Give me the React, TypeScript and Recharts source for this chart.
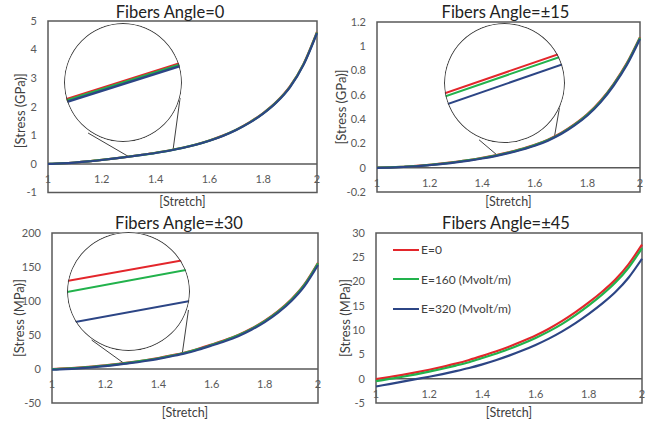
import React from "react";
import {
  LineChart,
  Line,
  XAxis,
  YAxis,
  ReferenceLine,
  ReferenceArea,
  ReferenceDot,
  Legend,
} from "recharts";

const stretch = [1, 1.05, 1.1, 1.15, 1.2, 1.25, 1.3, 1.35, 1.4, 1.45, 1.5, 1.55, 1.6, 1.65, 1.7, 1.75, 1.8, 1.85, 1.9, 1.95, 2];
const xTicks = [1, 1.2, 1.4, 1.6, 1.8, 2];
const seriesNames = ["E=0", "E=160 (Mvolt/m)", "E=320 (Mvolt/m)"];

// Fibers angle 0 (GPa)
const a0E0 = [0, 0.02, 0.05, 0.09, 0.14, 0.195, 0.255, 0.32, 0.39, 0.47, 0.565, 0.68, 0.82, 0.99, 1.2, 1.46, 1.78, 2.18, 2.72, 3.5, 4.62];
const a0E160 = [0, 0.02, 0.049, 0.089, 0.139, 0.194, 0.253, 0.318, 0.388, 0.467, 0.562, 0.676, 0.816, 0.985, 1.194, 1.453, 1.77, 2.17, 2.707, 3.485, 4.6];
const a0E320 = [0, 0.019, 0.048, 0.087, 0.137, 0.191, 0.25, 0.314, 0.383, 0.462, 0.556, 0.67, 0.809, 0.977, 1.185, 1.443, 1.758, 2.156, 2.69, 3.465, 4.575];

// Fibers angle ±15 (GPa)
const a15E0 = [0, 0.003, 0.008, 0.015, 0.024, 0.035, 0.048, 0.063, 0.081, 0.102, 0.126, 0.155, 0.188, 0.231, 0.286, 0.356, 0.441, 0.551, 0.691, 0.861, 1.075];
const a15E160 = [0, 0.003, 0.008, 0.014, 0.023, 0.034, 0.047, 0.062, 0.08, 0.1, 0.124, 0.153, 0.186, 0.228, 0.283, 0.352, 0.437, 0.546, 0.686, 0.856, 1.07];
const a15E320 = [-0.002, 0.001, 0.006, 0.012, 0.021, 0.031, 0.044, 0.059, 0.076, 0.096, 0.12, 0.148, 0.181, 0.223, 0.277, 0.346, 0.43, 0.538, 0.677, 0.846, 1.06];

// Fibers angle ±30 (MPa)
const a30E0 = [0, 0.8, 2, 3.5, 5.3, 7.5, 10, 12.9, 16.2, 20, 24.3, 29.8, 36, 42.5, 50, 59.5, 71, 85, 102.5, 125, 156];
const a30E160 = [-0.3, 0.5, 1.7, 3.2, 5, 7.2, 9.7, 12.6, 15.8, 19.6, 23.9, 29.3, 35.5, 42, 49.5, 59, 70.4, 84.4, 101.8, 124.3, 155.5];
const a30E320 = [-1, -0.2, 1, 2.5, 4.3, 6.5, 8.9, 11.8, 15, 18.8, 23, 28.4, 34.5, 40.9, 48.3, 57.7, 69, 82.8, 100, 122.3, 153];

// Fibers angle ±45 (MPa)
const a45E0 = [-0.1, 0.35, 0.8, 1.3, 1.85, 2.45, 3.1, 3.85, 4.7, 5.6, 6.6, 7.7, 8.9, 10.3, 11.9, 13.7, 15.7, 17.9, 20.4, 23.6, 27.6];
const a45E160 = [-0.5, -0.05, 0.4, 0.9, 1.45, 2.05, 2.7, 3.4, 4.25, 5.15, 6.1, 7.2, 8.4, 9.75, 11.3, 13.1, 15.1, 17.3, 19.8, 22.9, 26.9];
const a45E320 = [-1.6, -1.1, -0.6, -0.1, 0.4, 0.95, 1.55, 2.2, 2.95, 3.8, 4.75, 5.8, 6.95, 8.25, 9.75, 11.45, 13.35, 15.45, 17.85, 20.85, 24.7];

// zoomed views (magnified windows)
const zoom0Stretch = [1.37, 1.39];
const zoom0E0 = [0.364, 0.396];
const zoom0E160 = [0.3629, 0.3949];
const zoom0E320 = [0.3616, 0.3936];

const zoom15Stretch = [1.56, 1.58];
const zoom15E0 = [0.18, 0.194];
const zoom15E160 = [0.1789, 0.1929];
const zoom15E320 = [0.1761, 0.1901];

const zoom30Stretch = [1.37, 1.39];
const zoom30E0 = [14.9, 16.3];
const zoom30E160 = [14.21, 15.65];
const zoom30E320 = [12.21, 13.64];

const RED = "#e3262b";
const GREEN = "#22b24c";
const BLUE = "#2c4585";
const GRAY = "#595959";

const toRows = (xs: number[], a: number[], b: number[], c: number[]) =>
  xs.map((s, i) => ({ stretch: s, e0: a[i], e160: b[i], e320: c[i] }));

function XTitle({ viewBox }: any) {
  const vb = viewBox || { x: 0, y: 0, width: 0, height: 0 };
  return (
    <text x={vb.x + vb.width / 2} y={vb.y + 9} textAnchor="middle" dominantBaseline="central" fill="#404040" fontSize={12.5}>
      [Stretch]
    </text>
  );
}

function YTitle({ viewBox, titleText, titleX, shift }: any) {
  const vb = viewBox || { x: 0, y: 0, width: 0, height: 0 };
  const cy = vb.y + vb.height / 2 + shift;
  return (
    <text x={titleX} y={cy} transform={`rotate(-90 ${titleX} ${cy})`} textAnchor="middle" dominantBaseline="central" fill="#404040" fontSize={13}>
      {titleText}
    </text>
  );
}

function renderLegend({ payload }: any) {
  return (
    <div>
      {(payload || []).map((p: any) => (
        <div key={p.value} style={{ display: "flex", alignItems: "center", height: 29.5 }}>
          <span style={{ display: "inline-block", width: 26, height: 2, background: p.color }} />
          <span style={{ marginLeft: 2, fontSize: 12, color: "#404040" }}>{p.value}</span>
        </div>
      ))}
    </div>
  );
}

function Inset({ z }: any) {
  const data = toRows(z.x, z.e0, z.e160, z.e320);
  return (
    <div style={{ position: "absolute", left: z.left, top: z.top, width: z.w, height: z.h, borderRadius: "50%", overflow: "hidden", background: "#fff" }}>
      <LineChart width={z.w} height={z.h} data={data} margin={{ top: 0, right: 0, bottom: 0, left: 0 }}>
        <XAxis type="number" dataKey="stretch" domain={[z.x[0], z.x[1]]} hide />
        <YAxis type="number" domain={z.yDomain} hide />
        <Line dataKey="e0" stroke={RED} strokeWidth={z.sw} dot={false} isAnimationActive={false} />
        <Line dataKey="e160" stroke={GREEN} strokeWidth={z.sw} dot={false} isAnimationActive={false} />
        <Line dataKey="e320" stroke={BLUE} strokeWidth={z.sw} dot={false} isAnimationActive={false} />
      </LineChart>
      <div style={{ position: "absolute", inset: 0, borderRadius: "50%", border: "1.3px solid #404040" }} />
    </div>
  );
}

function Panel({ p }: any) {
  const data = toRows(stretch, p.e0, p.e160, p.e320);
  return (
    <div style={{ position: "absolute", left: p.left, top: p.top, width: p.width, height: p.height }}>
      <LineChart width={p.width} height={p.height} data={data} margin={{ top: p.mTop, right: p.mRight, bottom: 0, left: 0 }}>
        <XAxis type="number" dataKey="stretch" domain={[1, 2]} ticks={xTicks} tick={false} tickLine={false} axisLine={false} height={p.xHeight} label={<XTitle />} />
        <YAxis
          type="number"
          domain={p.yDomain}
          ticks={p.yTicks}
          interval={0}
          width={p.yWidth}
          tickLine={false}
          axisLine={false}
          tickMargin={5}
          tick={{ fill: GRAY, fontSize: 11 }}
          label={<YTitle titleText={p.yLabel} titleX={p.yLabelX} shift={p.yLabelDy} />}
        />
        <ReferenceArea x1={1} x2={2} y1={p.yDomain[0]} y2={p.yDomain[1]} fill="none" stroke={GRAY} strokeWidth={1.5} />
        <ReferenceLine y={0} stroke={GRAY} strokeWidth={1.5} />
        {xTicks.map((t) => (
          <ReferenceDot key={t} x={t} y={0} r={0} fill="none" stroke="none" label={{ value: String(t), position: "bottom", offset: 11.5, fill: GRAY, fontSize: 11 }} />
        ))}
        {(p.connectors || []).map((seg: any, i: number) => (
          <ReferenceLine key={"c" + i} segment={seg} stroke="#404040" strokeWidth={1} />
        ))}
        <Line type="monotone" dataKey="e0" name={seriesNames[0]} stroke={RED} strokeWidth={2.2} dot={false} isAnimationActive={false} />
        <Line type="monotone" dataKey="e160" name={seriesNames[1]} stroke={GREEN} strokeWidth={2.2} dot={false} isAnimationActive={false} />
        <Line type="monotone" dataKey="e320" name={seriesNames[2]} stroke={BLUE} strokeWidth={2.2} dot={false} isAnimationActive={false} />
        {p.legend && (
          <Legend layout="vertical" align="center" verticalAlign="middle" wrapperStyle={{ left: 66, top: 25, width: 160 }} content={renderLegend} />
        )}
      </LineChart>
      <div style={{ position: "absolute", left: p.titleX - 120, width: 240, top: p.titleY - 11, height: 22, lineHeight: "22px", fontSize: 16.5, textAlign: "center", color: "#222" }}>
        {p.title}
      </div>
      {p.inset && <Inset z={p.inset} />}
    </div>
  );
}

const panels = [
  {
    title: "Fibers Angle=0", left: 0, top: 0, width: 327, height: 210, mTop: 21, mRight: 10, xHeight: 17.5, yWidth: 48,
    yDomain: [-1, 5], yTicks: [-1, 0, 1, 2, 3, 4, 5], yLabel: "[Stress (GPa)]", yLabelX: 19.5, yLabelDy: 4,
    titleX: 170, titleY: 11.5, e0: a0E0, e160: a0E160, e320: a0E320,
    connectors: [
      [{ x: 1.149, y: 1.081 }, { x: 1.3, y: 0.255 }],
      [{ x: 1.491, y: 2.306 }, { x: 1.465, y: 0.5 }],
    ],
    inset: { left: 64, top: 23, w: 118, h: 119, x: zoom0Stretch, e0: zoom0E0, e160: zoom0E160, e320: zoom0E320, yDomain: [0.328, 0.43], sw: 2.5 },
  },
  {
    title: "Fibers Angle=±15", left: 327, top: 0, width: 327, height: 210, mTop: 22, mRight: 14, xHeight: 18, yWidth: 50,
    yDomain: [-0.2, 1.2], yTicks: [-0.2, 0, 0.2, 0.4, 0.6, 0.8, 1, 1.2], yLabel: "[Stress (GPa)]", yLabelX: 13.5, yLabelDy: 0,
    titleX: 178.5, titleY: 11.5, e0: a15E0, e160: a15E160, e320: a15E320,
    connectors: [
      [{ x: 1.388, y: 0.23 }, { x: 1.456, y: 0.105 }],
      [{ x: 1.712, y: 0.723 }, { x: 1.675, y: 0.258 }],
    ],
    inset: { left: 117, top: 22.5, w: 121, h: 120, x: zoom15Stretch, e0: zoom15E0, e160: zoom15E160, e320: zoom15E320, yDomain: [0.1634, 0.2037], sw: 2 },
  },
  {
    title: "Fibers Angle=±30", left: 0, top: 210, width: 327, height: 217, mTop: 23, mRight: 9, xHeight: 24, yWidth: 52,
    yDomain: [-50, 200], yTicks: [-50, 0, 50, 100, 150, 200], yLabel: "[Stress (MPa)]", yLabelX: 18.7, yLabelDy: 0,
    titleX: 179, titleY: 13, e0: a30E0, e160: a30E160, e320: a30E320,
    connectors: [
      [{ x: 1.149, y: 42.6 }, { x: 1.27, y: 8.5 }],
      [{ x: 1.513, y: 86.8 }, { x: 1.49, y: 23.4 }],
    ],
    inset: { left: 67, top: 22, w: 123, h: 119, x: zoom30Stretch, e0: zoom30E0, e160: zoom30E160, e320: zoom30E320, yDomain: [10.46, 18.01], sw: 2 },
  },
  {
    title: "Fibers Angle=±45", left: 327, top: 210, width: 327, height: 217, mTop: 23, mRight: 12, xHeight: 24, yWidth: 49,
    yDomain: [-5, 30], yTicks: [-5, 0, 5, 10, 15, 20, 25, 30], yLabel: "[Stress (MPa)]", yLabelX: 17.7, yLabelDy: 0,
    titleX: 179, titleY: 13, e0: a45E0, e160: a45E160, e320: a45E320,
    connectors: [], legend: true,
  },
];

export default function App() {
  return (
    <div style={{ position: "absolute", left: 0, top: 0, width: 654, height: 427, background: "#fff", fontFamily: "Lato, sans-serif" }}>
      {panels.map((p) => (
        <Panel key={p.title} p={p} />
      ))}
    </div>
  );
}
